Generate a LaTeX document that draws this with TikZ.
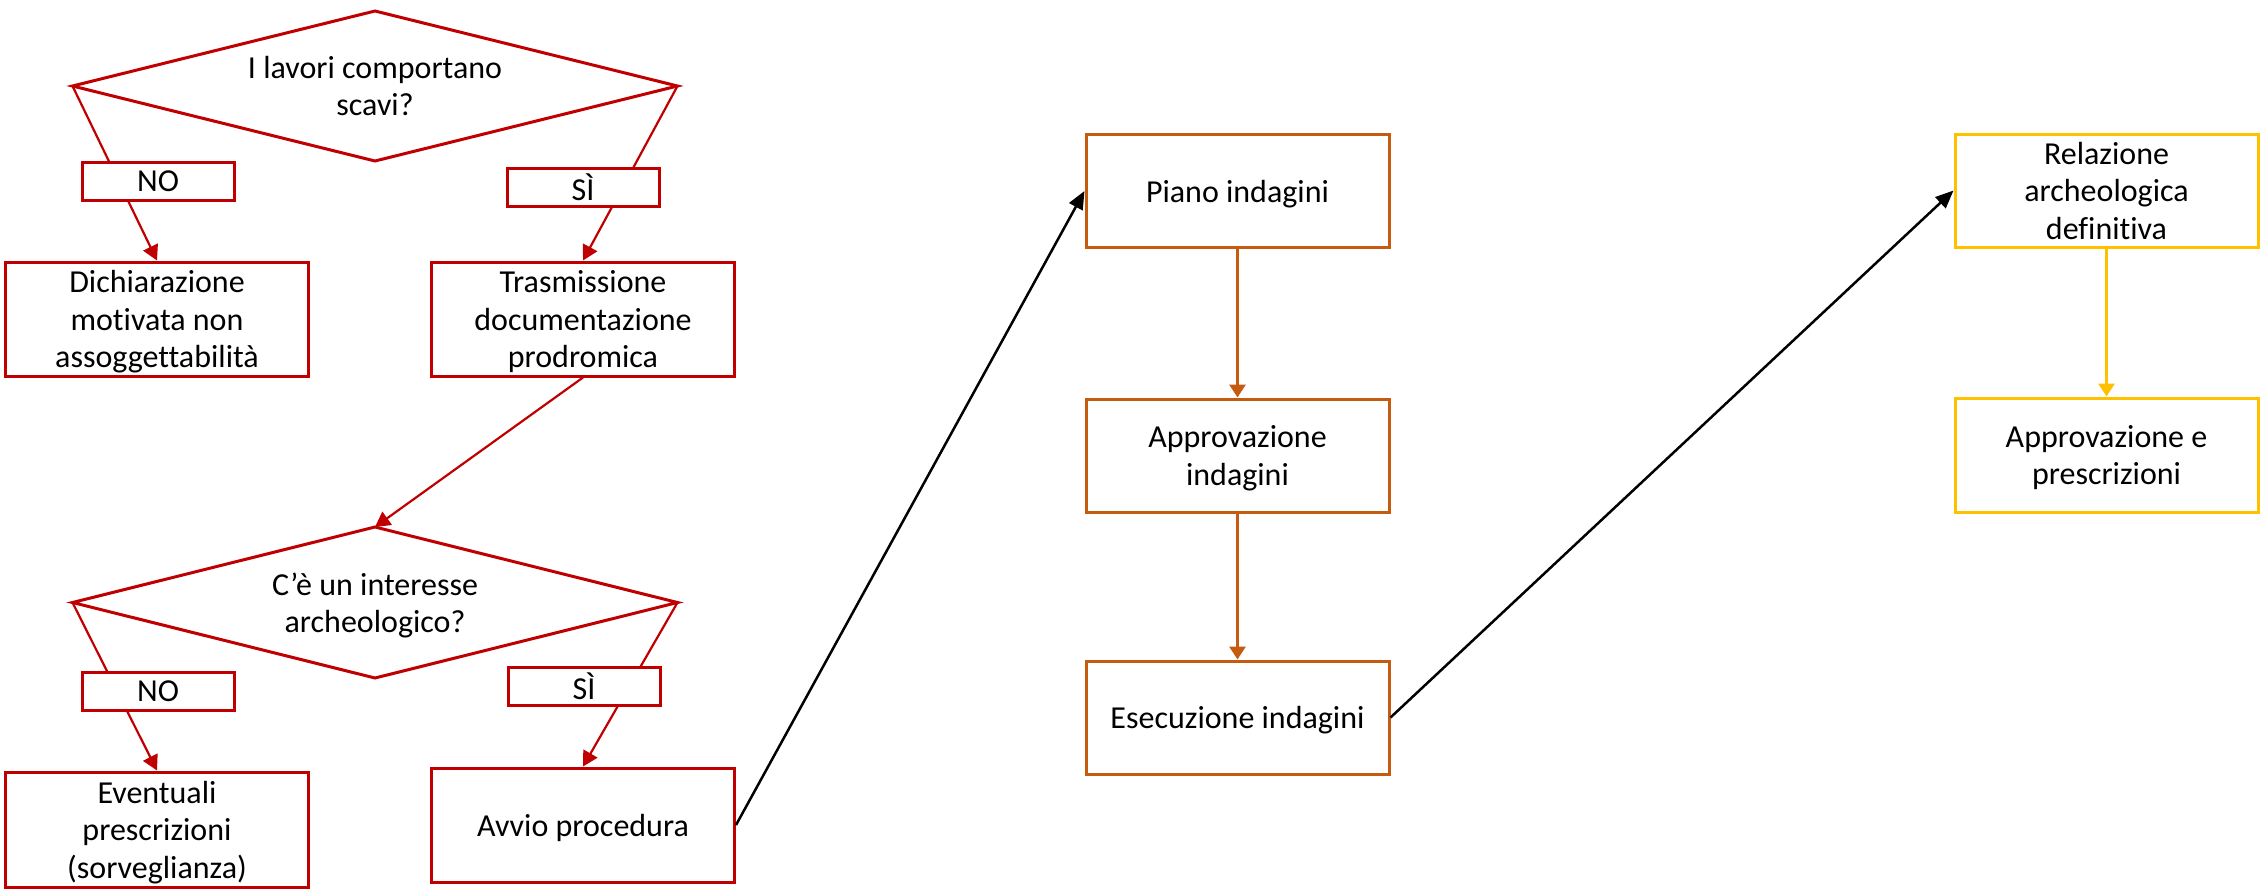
\documentclass[tikz,border=0pt]{standalone}
\usepackage{fontspec}
\setmainfont{Carlito}[Ligatures=NoCommon]
\usetikzlibrary{shapes.geometric,arrows.meta}
\definecolor{cred}{HTML}{C00000}
\definecolor{corange}{HTML}{C55A11}
\definecolor{cyellow}{HTML}{FFC000}
\begin{document}
\begin{tikzpicture}[x=1pt,y=-1pt,
  txt/.style={align=center,text depth=0pt,font=\fontsize{32}{37.5}\selectfont},
  redbox/.style={txt,draw=cred,line width=3pt,minimum width=303pt,minimum height=114pt,inner sep=0pt},
  reddiam/.style={diamond,draw=cred,line width=3pt,minimum width=605pt,minimum height=150pt,inner sep=0pt,outer sep=0pt},
  diamtext/.style={txt,inner sep=0pt},
  labelbox/.style={txt,draw=cred,fill=white,line width=3pt,minimum width=152pt,minimum height=38pt,inner sep=0pt},
  orbox/.style={txt,draw=corange,line width=3pt,minimum width=303pt,minimum height=113pt,inner sep=0pt},
  yebox/.style={txt,draw=cyellow,line width=3pt,minimum width=303pt,minimum height=113pt,inner sep=0pt},
  redarrow/.style={draw=cred,line width=2.2pt,-{Triangle[width=16pt,length=15pt]}},
  orarrow/.style={draw=corange,line width=3pt,-{Triangle[width=16pt,length=13pt]}},
  yearrow/.style={draw=cyellow,line width=3pt,-{Triangle[width=16pt,length=13pt]}},
  blkarrow/.style={draw=black,line width=2.5pt,-{Triangle[width=15pt,length=18pt]}}
]
\useasboundingbox (0,0) rectangle (2266,894);

% left column
\node[reddiam] (d1) at (375,86) {};
\node[diamtext] (d1t) at (375,86) {I lavori comportano\\scavi?};
\node[redbox] (dich) at (157,319) {Dichiarazione\\motivata non\\assoggettabilità};
\node[redbox] (tras) at (583,319) {Trasmissione\\documentazione\\prodromica};
\node[reddiam,minimum height=151pt] (d2) at (375,602.5) {};
\node[diamtext] (d2t) at (375,602.5) {C’è un interesse\\archeologico?};
\node[redbox,minimum height=115pt] (even) at (157,829.5) {Eventuali\\prescrizioni\\(sorveglianza)};
\node[redbox] (avvio) at (583,825) {Avvio procedura};

% middle column
\node[orbox] (piano) at (1237.5,191) {Piano indagini};
\node[orbox] (appr) at (1237.5,455.5) {Approvazione\\indagini};
\node[orbox] (esec) at (1237.5,717.5) {Esecuzione indagini};

% right column
\node[yebox] (rel) at (2106.5,190.5) {Relazione\\archeologica\\definitiva};
\node[yebox,minimum height=114pt] (appe) at (2106.5,455) {Approvazione e\\prescrizioni};

% connectors
\draw[redarrow] (d1.west) -- (dich.north);
\draw[redarrow] (d1.east) -- (tras.north);
\draw[redarrow] (tras.south) -- (d2.north);
\draw[redarrow] (d2.west) -- (even.north);
\draw[redarrow] (d2.east) -- (avvio.north);
\draw[blkarrow] (avvio.east) -- (piano.west);
\draw[orarrow] (piano.south) -- (appr.north);
\draw[orarrow] (appr.south) -- (esec.north);
\draw[blkarrow] (esec.east) -- (rel.west);
\draw[yearrow] (rel.south) -- (appe.north);

% labels on connectors
\node[labelbox] (no1) at (158,181) {NO};
\node[labelbox] (si1) at (583,187.5) {SÌ};
\node[labelbox] (no2) at (158,691) {NO};
\node[labelbox] (si2) at (584,686.5) {SÌ};
\end{tikzpicture}
\end{document}
